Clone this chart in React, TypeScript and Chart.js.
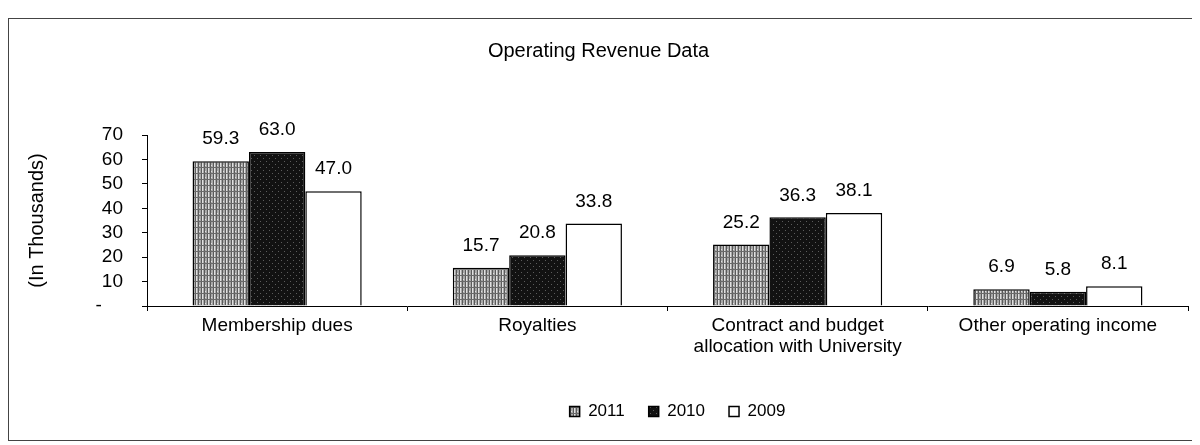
import React, { useEffect, useRef } from 'react';
import { Chart, registerables } from 'chart.js';

Chart.register(...registerables);

const categories: (string | string[])[] = [
  'Membership dues',
  'Royalties',
  ['Contract and budget', 'allocation with University'],
  'Other operating income',
];
const seriesNames = ['2011', '2010', '2009'];
const values2011 = [59.3, 15.7, 25.2, 6.9];
const values2010 = [63.0, 20.8, 36.3, 5.8];
const values2009 = [47.0, 33.8, 38.1, 8.1];
const yMin = 0;
const yMax = 70;
const yStep = 10;

const FONT = '"Liberation Sans", Arial, Helvetica, sans-serif';

function makePattern(kind: 'gray' | 'dark'): CanvasPattern | string {
  const c = document.createElement('canvas');
  c.width = 6;
  c.height = 6;
  const g = c.getContext('2d');
  if (!g) return kind === 'gray' ? '#999' : '#111';
  if (kind === 'gray') {
    g.fillStyle = '#a8a8a8';
    g.fillRect(0, 0, 6, 6);
    g.fillStyle = '#5a5a5a';
    g.fillRect(0, 0, 1, 6);
    g.fillRect(3, 0, 1, 6);
    g.fillStyle = '#e0e0e0';
    g.fillRect(1, 0, 1, 6);
    g.fillRect(4, 2, 1, 1);
    g.fillStyle = '#6a6a6a';
    g.fillRect(0, 4, 6, 1);
  } else {
    g.fillStyle = '#121212';
    g.fillRect(0, 0, 6, 6);
    g.fillStyle = '#5c5c5c';
    g.fillRect(2, 1, 1, 1);
    g.fillRect(5, 4, 1, 1);
  }
  return g.createPattern(c, 'repeat') || '#888';
}

const valueLabels = {
  id: 'valueLabels',
  afterDatasetsDraw(chart: any) {
    const ctx = chart.ctx;
    ctx.save();
    ctx.font = `19px ${FONT}`;
    ctx.fillStyle = '#000';
    ctx.textAlign = 'center';
    ctx.textBaseline = 'middle';
    chart.data.datasets.forEach((ds: any, di: number) => {
      const meta = chart.getDatasetMeta(di);
      meta.data.forEach((bar: any, i: number) => {
        const v = ds.data[i] as number;
        ctx.fillText(v.toFixed(1), bar.x, bar.y - 22);
      });
    });
    ctx.restore();
  },
};

const legendShift = {
  id: 'legendShift',
  afterLayout(chart: any) {
    const lg = chart.legend;
    if (lg) {
      lg.left += 10;
      lg.right += 10;
    }
  },
};

export default function App() {
  const ref = useRef<HTMLCanvasElement | null>(null);

  useEffect(() => {
    if (!ref.current) return;
    const grayPat = makePattern('gray');
    const darkPat = makePattern('dark');
    const chart = new Chart(ref.current, {
      type: 'bar',
      data: {
        labels: categories,
        datasets: [
          {
            label: seriesNames[0],
            data: values2011,
            backgroundColor: grayPat as any,
            borderColor: '#000',
            borderWidth: 1.5,
          },
          {
            label: seriesNames[1],
            data: values2010,
            backgroundColor: darkPat as any,
            borderColor: '#000',
            borderWidth: 1.5,
          },
          {
            label: seriesNames[2],
            data: values2009,
            backgroundColor: '#ffffff',
            borderColor: '#000',
            borderWidth: 1.5,
          },
        ],
      },
      options: {
        responsive: false,
        animation: false,
        layout: { padding: { left: 0, right: 8, top: 0, bottom: 10 } },
        datasets: {
          bar: { categoryPercentage: 0.65, barPercentage: 1.0 },
        },
        plugins: {
          title: {
            display: true,
            text: 'Operating Revenue Data',
            color: '#000',
            font: { family: FONT, size: 20, weight: 'normal' },
            padding: { top: 20, bottom: 72 },
          },
          legend: {
            display: true,
            position: 'bottom',
            fullSize: false,
            labels: {
              color: '#000',
              font: { family: FONT, size: 17 },
              boxWidth: 10,
              boxHeight: 10,
              padding: 24,
            },
          },
          tooltip: { enabled: false },
        },
        scales: {
          x: {
            type: 'category',
            offset: true,
            grid: {
              display: true,
              drawOnChartArea: false,
              drawTicks: true,
              tickLength: 5,
              offset: true,
              color: '#000',
            },
            border: { display: true, color: '#000', width: 1 },
            ticks: {
              color: '#000',
              font: { family: FONT, size: 19, lineHeight: 1.1 },
              padding: 4,
              maxRotation: 0,
              autoSkip: false,
            },
            afterFit(scale: any) {
              scale.height = 73;
            },
          },
          y: {
            min: yMin,
            max: yMax,
            grid: {
              display: true,
              drawOnChartArea: false,
              drawTicks: true,
              tickLength: 5,
              color: '#000',
            },
            border: { display: true, color: '#000', width: 1 },
            ticks: {
              stepSize: yStep,
              autoSkip: false,
              color: '#000',
              font: { family: FONT, size: 19 },
              padding: 19,
              callback: (v: any) => (Number(v) === 0 ? '-    ' : String(v)),
            },
            title: {
              display: true,
              text: '(In Thousands)',
              color: '#000',
              font: { family: FONT, size: 20 },
              padding: { top: 16, bottom: 0 },
            },
            afterFit(scale: any) {
              scale.width = 138;
            },
          },
        },
      },
      plugins: [valueLabels, legendShift],
    });
    return () => chart.destroy();
  }, []);

  return (
    <div
      style={{
        width: 1189,
        height: 423,
        marginTop: 10,
        border: '1px solid #444',
        boxSizing: 'border-box',
        background: '#fff',
      }}
    >
      <canvas ref={ref} width={1187} height={421} style={{ display: 'block' }} />
    </div>
  );
}
